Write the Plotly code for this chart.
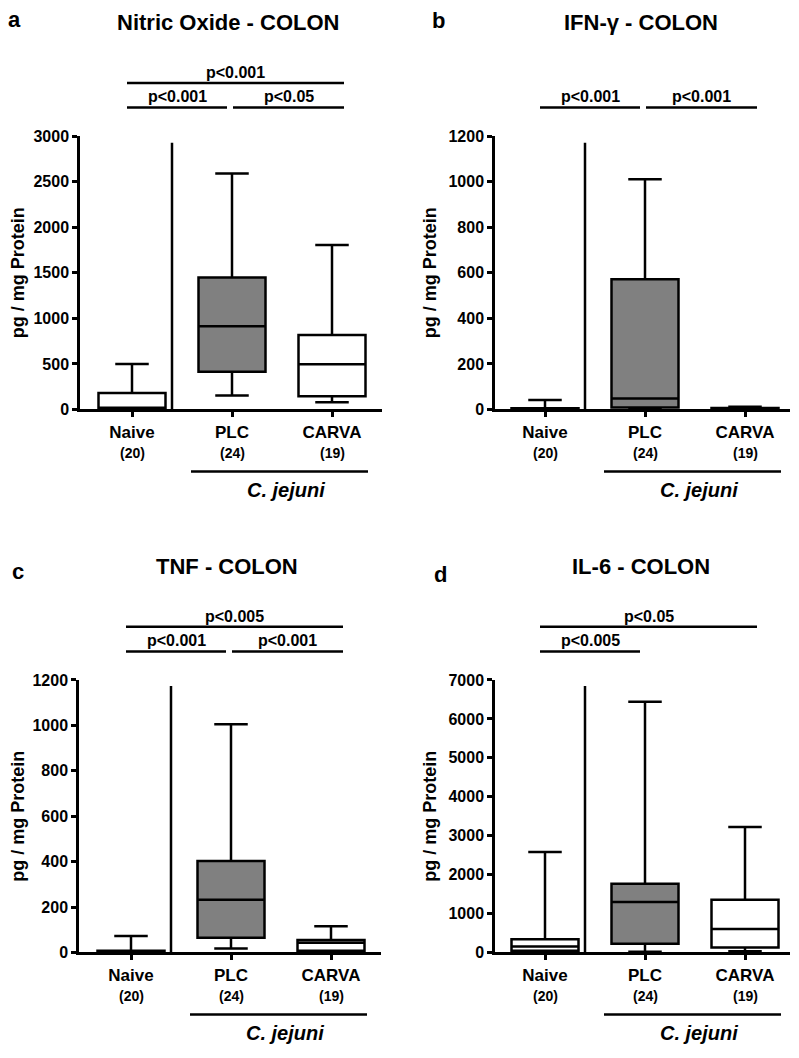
import plotly.graph_objects as go

# ---------------- data ----------------
groups = ["Naive", "PLC", "CARVA"]
group_n = ["(20)", "(24)", "(19)"]
box_fill = ["#ffffff", "#808080", "#ffffff"]

panel_letters = ["a", "b", "c", "d"]
titles = ["Nitric Oxide - COLON", "IFN-γ - COLON", "TNF - COLON", "IL-6 - COLON"]

# five-number summaries (order: Naive, PLC, CARVA), pg / mg protein
no_min = [0, 152, 79]
no_q1 = [5, 415, 144]
no_med = [20, 913, 495]
no_q3 = [180, 1448, 816]
no_max = [500, 2590, 1805]

ifn_min = [0, 2, 0]
ifn_q1 = [0, 9, 1]
ifn_med = [2, 48, 3]
ifn_q3 = [5, 571, 6]
ifn_max = [42, 1010, 12]

tnf_min = [0, 17, 0]
tnf_q1 = [0, 65, 8]
tnf_med = [3, 232, 43]
tnf_q3 = [8, 403, 55]
tnf_max = [72, 1005, 116]

il6_min = [0, 20, 30]
il6_q1 = [42, 227, 126]
il6_med = [152, 1296, 606]
il6_q3 = [337, 1768, 1355]
il6_max = [2584, 6444, 3224]

y_max = [3000, 1200, 1200, 7000]
y_dtick = [500, 200, 200, 1000]
separator_top = [2925, 1170, 1174, 6848]

# significance comparisons: (group i, group j, label, level)
sig_a = [(0, 1, "p<0.001", 0), (1, 2, "p<0.05", 0), (0, 2, "p<0.001", 1)]
sig_b = [(0, 1, "p<0.001", 0), (1, 2, "p<0.001", 0)]
sig_c = [(0, 1, "p<0.001", 0), (1, 2, "p<0.001", 0), (0, 2, "p<0.005", 1)]
sig_d = [(0, 1, "p<0.005", 0), (0, 2, "p<0.05", 1)]

stats = [
    (no_min, no_q1, no_med, no_q3, no_max),
    (ifn_min, ifn_q1, ifn_med, ifn_q3, ifn_max),
    (tnf_min, tnf_q1, tnf_med, tnf_q3, tnf_max),
    (il6_min, il6_q1, il6_med, il6_q3, il6_max),
]
sigs = [sig_a, sig_b, sig_c, sig_d]

# ---------------- layout geometry ----------------
PAGE_W, PAGE_H = 799, 1058
BODY = 8  # default browser body margin
W, H = PAGE_W - 2 * BODY, PAGE_H - 2 * BODY
FONT = "Liberation Sans, Arial, sans-serif"
PX_PER_GROUP = 100.0


def fx(p):
    return min(1.0, max(0.0, (p - BODY) / W))


def fy(p):
    return min(1.0, max(0.0, 1 - (p - BODY) / H))


# plot area in page pixels: (left, right, top, bottom), and Naive centre x
plot_px = [(80, 382, 130, 408), (495, 790, 130, 408),
           (79, 381, 683, 960), (495, 790, 683, 960)]
naive_px = [132, 545, 131, 545]
letter_px = [(14, 12), (438, 13), (18, 573), (440, 576)]

fig = go.Figure()
annotations = []
shapes = []
layout = dict(
    width=W, height=H,
    margin=dict(l=0, r=0, t=0, b=0),
    paper_bgcolor="white", plot_bgcolor="white",
    showlegend=False, boxmode="overlay",
    font=dict(family=FONT, color="black"),
)

for k in range(4):
    xa = "x" if k == 0 else f"x{k + 1}"
    ya = "y" if k == 0 else f"y{k + 1}"
    mn, q1, md, q3, mx = stats[k]
    for g in range(3):
        fig.add_trace(go.Box(
            x=[g], q1=[q1[g]], median=[md[g]], q3=[q3[g]],
            lowerfence=[mn[g]], upperfence=[mx[g]],
            fillcolor=box_fill[g], line=dict(color="black", width=2.5),
            width=0.67, whiskerwidth=0.5, boxpoints=False,
            xaxis=xa, yaxis=ya, hoverinfo="skip",
        ))

    L, R, T, B = plot_px[k]
    xr = [(L - naive_px[k]) / PX_PER_GROUP, (R - naive_px[k]) / PX_PER_GROUP]
    layout["xaxis" if k == 0 else f"xaxis{k + 1}"] = dict(
        domain=[fx(L), fx(R)], range=xr, anchor=ya,
        tickmode="array", tickvals=[0, 1, 2], ticktext=groups,
        ticks="outside", ticklen=5, tickwidth=2.5, tickcolor="black",
        showline=True, linecolor="black", linewidth=2.5,
        showgrid=False, zeroline=False, fixedrange=True,
        tickfont=dict(family=FONT, size=17, color="black", weight="bold"),
    )
    layout["yaxis" if k == 0 else f"yaxis{k + 1}"] = dict(
        domain=[fy(B), fy(T)], range=[0, y_max[k]], anchor=xa,
        tickmode="linear", tick0=0, dtick=y_dtick[k],
        ticks="outside", ticklen=5, tickwidth=2.5, tickcolor="black",
        showline=True, linecolor="black", linewidth=2.5,
        showgrid=False, zeroline=False, fixedrange=True,
        tickfont=dict(family=FONT, size=16, color="black", weight="bold"),
        title=dict(text="pg / mg Protein", standoff=8,
                   font=dict(family=FONT, size=18, color="black", weight="bold")),
    )

    # vertical separator between naive and infected groups
    shapes.append(dict(type="line", xref=xa, yref=ya, x0=0.4, x1=0.4,
                       y0=0, y1=separator_top[k],
                       line=dict(color="black", width=2.5)))

    # title and panel letter
    cx = naive_px[k] + 96
    annotations.append(dict(text=titles[k], xref="paper", yref="paper",
                            x=fx(cx), y=fy(T - 115),
                            xanchor="center", yanchor="middle", showarrow=False,
                            font=dict(family=FONT, size=22, weight="bold")))
    lx, ly = letter_px[k]
    annotations.append(dict(text=panel_letters[k], xref="paper", yref="paper",
                            x=fx(lx), y=fy(ly),
                            xanchor="center", yanchor="middle", showarrow=False,
                            font=dict(family=FONT, size=22, weight="bold")))

    # group sizes under tick labels
    for g in range(3):
        annotations.append(dict(text=group_n[g], xref=xa, yref="paper",
                                x=g, y=fy(B + 44), xanchor="center", yanchor="middle",
                                showarrow=False,
                                font=dict(family=FONT, size=14, weight="bold")))

    # C. jejuni bracket
    shapes.append(dict(type="line", xref=xa, yref="paper", x0=0.59, x1=2.36,
                       y0=fy(B + 63), y1=fy(B + 63),
                       line=dict(color="black", width=2.5)))
    annotations.append(dict(text="<i>C. jejuni</i>", xref=xa, yref="paper",
                            x=1.54, y=fy(B + 82), xanchor="center", yanchor="middle",
                            showarrow=False,
                            font=dict(family=FONT, size=20, weight="bold")))

    # significance bars
    for (i, j, lab, lev) in sigs[k]:
        x0 = i - 0.05 if i == 0 else i + 0.01
        x1 = j - 0.05 if j == 1 else j + 0.12
        ypx = T - 29 if lev == 0 else T - 54
        shapes.append(dict(type="line", xref=xa, yref="paper", x0=x0, x1=x1,
                           y0=fy(ypx), y1=fy(ypx),
                           line=dict(color="black", width=2.5)))
        annotations.append(dict(text=lab.replace("<", "&lt;"), xref=xa, yref="paper",
                                x=(x0 + x1) / 2, y=fy(ypx - 11),
                                xanchor="center", yanchor="middle", showarrow=False,
                                font=dict(family=FONT, size=16, weight="bold")))

layout["annotations"] = annotations
layout["shapes"] = shapes
fig.update_layout(**layout)
fig.write_html("out.html")
